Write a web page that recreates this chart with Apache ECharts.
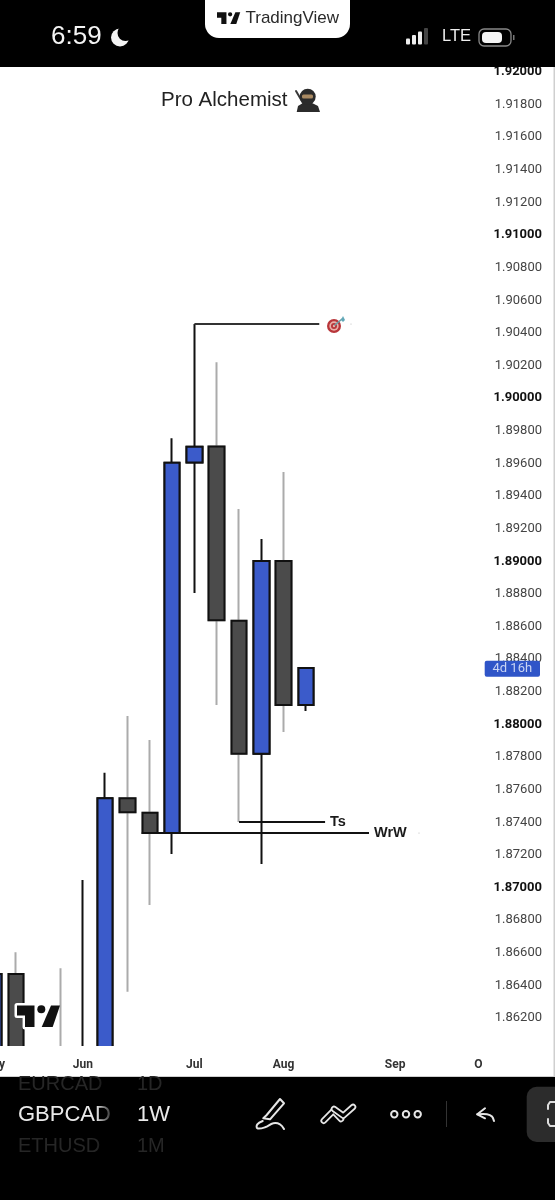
<!DOCTYPE html>
<html><head><meta charset="utf-8">
<style>html,body{margin:0;padding:0;background:#fff}#c{width:555px;height:1200px}</style>
<script src="https://cdn.jsdelivr.net/npm/echarts@6/dist/echarts.min.js"></script>
</head><body><div id="c"></div>
<script>
// week index, open, close, low, high
const weeks  = [-1, 0, 2, 3, 4, 5, 6, 7, 8, 9, 10, 11, 12, 13];
const opens  = [1.8580, 1.864604, 1.8595, 1.8570, 1.8580, 1.875383, 1.874494, 1.873256, 1.895966, 1.896940, 1.886266, 1.878111, 1.889926, 1.881098];
const closes = [1.864604, 1.8580, 1.8585, 1.8590, 1.875383, 1.874525, 1.873256, 1.895954, 1.896934, 1.886290, 1.878111, 1.889926, 1.881098, 1.883366];
const lows   = [1.8570, 1.8575, 1.8580, 1.8565, 1.8575, 1.863519, 1.868835, 1.871962, 1.887964, 1.881098, 1.873924, 1.871349, 1.879442, 1.880730];
const highs  = [1.8650, 1.865934, 1.864954, 1.870368, 1.876946, 1.880423, 1.878952, 1.897449, 1.904457, 1.902109, 1.893115, 1.891275, 1.895383, 1.883427];

const priceTicks = [1.92,1.918,1.916,1.914,1.912,1.91,1.908,1.906,1.904,1.902,1.90,1.898,1.896,1.894,1.892,1.89,1.888,1.886,1.884,1.882,1.88,1.878,1.876,1.874,1.872,1.87,1.868,1.866,1.864,1.862];
const boldTicks  = [1.92,1.91,1.90,1.89,1.88,1.87];
const monthTicks = [-1, 3, 8, 12, 17, 20.73];
const monthNames = ['May','Jun','Jul','Aug','Sep','O'];

const targetLine = [[8, 1.904457], [13.6, 1.904457]];
const tsLine     = [[10, 1.873924], [13.86, 1.873924]];
const wrwLine    = [[5.64, 1.873250], [15.83, 1.873250]];

const BLUE='#3b5bca', GREY='#4b4b4b', INK='#111', WICK='#ababab';
const rows = weeks.map((w,i)=>[w,opens[i],closes[i],lows[i],highs[i]]);
const bodies = weeks.map((w,i)=>[w,opens[i],closes[i],Math.min(opens[i],closes[i]),Math.max(opens[i],closes[i])]);

function lineSeries(name,data,label,color,width){
  return {name,type:'line',data,symbol:'none',silent:true,z:4,
    lineStyle:{color,width},
    endLabel:label?{show:true,formatter:label,distance:5,fontFamily:'Liberation Sans',fontWeight:'bold',fontSize:14.5,color:'#1a1a1a'}:{show:false}};
}

const G=[], Z=100;
const rect=(x,y,w,h,fill,r,extra)=>G.push(Object.assign({type:'rect',z:Z,silent:true,shape:{x,y,width:w,height:h,r:r||0},style:{fill}},extra||{}));
const txt=(t,x,y,font,fill,extra)=>G.push({type:'text',z:Z+1,silent:true,style:Object.assign({text:t,x,y,font,fill,textVerticalAlign:'middle'},extra||{})});
const pl=(pts,stroke,w,smooth,z)=>G.push({type:'polyline',z:z||Z+1,silent:true,shape:{points:pts,smooth:smooth||0},style:{stroke,lineWidth:w,fill:null,lineCap:'round',lineJoin:'round'}});
const circ=(cx,cy,r,fill,stroke,w)=>G.push({type:'circle',z:Z+1,silent:true,shape:{cx,cy,r},style:{fill:fill||null,stroke:stroke||null,lineWidth:w||1}});
const poly=(pts,fill,stroke,w,z)=>G.push({type:'polygon',z:z||Z+1,silent:true,shape:{points:pts},style:{fill,stroke:stroke||null,lineWidth:w||0,lineJoin:'round'}});

function logo(ox,oy,k,halo){
  const P=a=>a.map(p=>[ox+(p[0]-17)*k,oy+(p[1]-1005.5)*k]);
  const T=P([[17,1005.5],[34.5,1005.5],[34.5,1027],[25,1027],[25,1015.5],[17,1015.5]]);
  const S=P([[51,1005.5],[60,1005.5],[52.7,1027],[41.7,1027]]);
  if(halo){poly(T,'#fff','#fff',5,Z);}
  poly(T,'#111');poly(S,'#111');
  const c=P([[41.3,1009.3]])[0];circ(c[0],c[1],4*k,'#111');
}
// mask below the plot area, under the date labels
G.push({type:'rect',z:5,silent:true,shape:{x:0,y:1046,width:555,height:31},style:{fill:'#fff'}});
// chart frame
rect(0,0,555,67,'#000');
rect(0,1077,555,123,'#000');
rect(0,1076,555,1,'#cfcfcf');
rect(553.5,67,1.5,1010,'#cfcfcf');
// pill
rect(205,-20,145,58,'#fff',[14,14,14,14]);
logo(217,12.3,0.54,false);
txt('TradingView',245.5,18,'17px "Liberation Sans"','#2a2a2a');
// status
txt('6:59',51,36.5,'26px "Liberation Sans"','#f4f4f4');
circ(120,37.5,9,'#f4f4f4');
circ(125.5,33,8,'#000');
[38.5,35,31.5,28].forEach((t,i)=>rect(406+i*6,t,4,44.5-t,i<3?'#eee':'#444',1));
txt('LTE',442,36.5,'16.5px "Liberation Sans"','#eee');
rect(479,29,32,17,null,5,{style:{fill:null,stroke:'#888',lineWidth:1.3}});
rect(482,32,20,11,'#f4f4f4',4);
rect(513,35,1.5,5,'#777');
// bottom bar
txt('EURCAD',18,1084,'20px "Liberation Sans"','#262626');
txt('1D',137,1084,'20px "Liberation Sans"','#262626');
txt('GBPCAD',18,1115,'22px "Liberation Sans"','#eaeaea');
txt('1W',137,1115,'22px "Liberation Sans"','#eaeaea');
txt('ETHUSD',18,1146,'20px "Liberation Sans"','#262626');
txt('1M',137,1146,'20px "Liberation Sans"','#262626');
G.push({type:'rect',z:Z+2,silent:true,shape:{x:96,y:1077,width:19,height:90},style:{fill:{type:'linear',x:0,y:0,x2:1,y2:0,colorStops:[{offset:0,color:'rgba(0,0,0,0)'},{offset:1,color:'rgba(0,0,0,1)'}]}}});
poly([[266.7,1115],[280,1099],[284,1103.3],[270,1119.3],[263.3,1118.3]],null,'#e6e6e6',2);
pl([[262.7,1121],[257.3,1124.3],[257.3,1128.3],[265,1127.3],[273.3,1123.3],[280,1124.3],[284,1129]],'#e6e6e6',2,0.4);
pl([[323.7,1120.7],[333.3,1111],[341,1119]],'#e6e6e6',6.5);
pl([[323.7,1120.7],[333.3,1111],[341,1119]],'#000',3);
pl([[334,1109],[343.3,1115.7],[353,1107]],'#e6e6e6',6.5);
pl([[334,1109],[343.3,1115.7],[353,1107]],'#000',3);
[394.3,406,417.7].forEach(x=>circ(x,1114.3,3.2,null,'#e6e6e6',2));
rect(446,1101,1,26,'#333');
pl([[485,1108.3],[477.3,1114.3],[485,1118.3]],'#e6e6e6',2);
pl([[477.3,1114.3],[487,1114.3],[492,1116.5],[494,1121]],'#e6e6e6',2,0.3);
rect(526.7,1086.7,40,55.3,'#2c2c2c',10);
pl([[555,1102],[550,1102],[548,1105],[548,1109]],'#ddd',2);
pl([[555,1126],[550,1126],[548,1123],[548,1119]],'#ddd',2);
// watermark
logo(17,1005.5,1,true);
// badge
rect(484.7,660.7,55.3,16,'#2f55c8',2);
txt('4d 16h',512.3,669,'13px Roboto','#c9d4f4',{textAlign:'center'});
// target emoji
circ(334,326,7,'#b8363a');circ(334,326,4.7,'#e8b0a8');circ(334,326,3,'#b8363a');circ(334,326,1.2,'#e8b0a8');
pl([[335,325],[342,319]],'#6aa0a8',1.6);
poly([[341,320],[343,316],[345,320],[343,322]],'#62a8b8');
circ(351,324,.5,'#aaa');circ(419,833,.5,'#aaa');
// ninja emoji
pl([[296,91],[303,103]],'#3a3a3a',2);
poly([[296.7,112],[298,106],[303,103],[312,103],[318,106],[320,112]],'#2b2b2b');
circ(307.7,96.7,8,'#2b2b2b');
rect(302,94.5,11,4,'#a98a63',1.5,{z:Z+2});

const chart=echarts.init(document.getElementById('c'),null,{renderer:'canvas'});
chart.setOption({
  animation:false,backgroundColor:'#fff',
  title:{text:'Pro Alchemist',left:156,top:85,textStyle:{fontFamily:'Liberation Sans',fontWeight:'normal',fontSize:20.5,color:'#222'}},
  grid:{left:-30,top:67,width:513,height:979,outerBoundsMode:'none'},
  xAxis:{type:'value',z:6,min:-2.0628,max:20.9417,splitLine:{show:false},axisLine:{show:false},axisTick:{show:false},
    axisLabel:{customValues:monthTicks,margin:13,fontFamily:'Roboto',fontSize:12,fontWeight:'bold',color:'#333',
      formatter:v=>monthNames[monthTicks.indexOf(v)]||''}},
  yAxis:{type:'value',position:'right',min:1.860191,max:1.920215,splitLine:{show:false},axisLine:{show:false},axisTick:{show:false},
    axisLabel:{customValues:priceTicks,align:'right',margin:59,padding:[3,0,0,0],fontFamily:'Roboto',fontSize:13,color:'#444',
      formatter:v=>boldTicks.some(t=>Math.abs(t-v)<1e-9)?'{b|'+v.toFixed(5)+'}':v.toFixed(5),
      rich:{b:{fontFamily:'Roboto',fontSize:13,fontWeight:'bold',color:'#111'}}}},
  series:[
    {name:'wicks',type:'candlestick',data:rows,barWidth:16,z:2,silent:true,
      itemStyle:{color:BLUE,color0:GREY,borderColor:INK,borderColor0:WICK,borderWidth:2}},
    {name:'bodies',type:'candlestick',data:bodies,barWidth:16,z:3,silent:true,
      itemStyle:{color:BLUE,color0:GREY,borderColor:INK,borderColor0:INK,borderWidth:2}},
    lineSeries('Target',targetLine,null,'#333',2.2),
    lineSeries('Ts',tsLine,'Ts',INK,1.8),
    lineSeries('WrW',wrwLine,'WrW',INK,1.8)
  ],
  graphic:{elements:G}
});
</script></body></html>
